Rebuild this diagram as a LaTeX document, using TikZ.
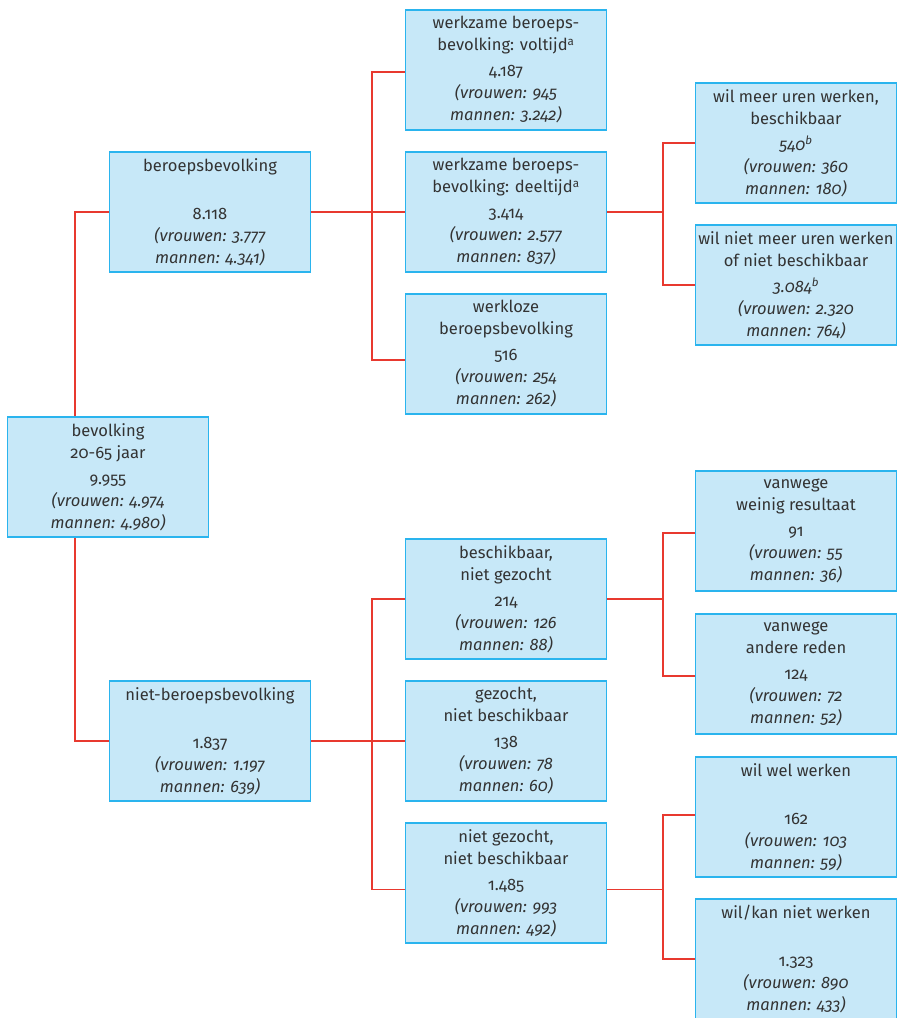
\documentclass[tikz,border=0pt]{standalone}
\usepackage{fontspec}
\setmainfont{Fira Sans}[Numbers=OldStyle]
\usepackage{tikz}

\definecolor{boxfill}{HTML}{C7E8F8}
\definecolor{boxline}{HTML}{2AB4EE}
\definecolor{linkred}{HTML}{E8392F}
\definecolor{textgray}{HTML}{333333}

\newcommand{\vm}[2]{\textit{(vrouwen: #1}\\\textit{mannen: #2)}}

\tikzset{
  box/.style={draw=boxline, fill=boxfill, line width=1.2pt,
    minimum width=151pt, minimum height=90pt, inner sep=1pt,
    align=center, text=textgray, font=\fontsize{12.4}{16.5}\selectfont},
  link/.style={draw=linkred, line width=0.8pt}
}

\begin{document}
\begin{tikzpicture}[x=0.75pt,y=-0.75pt]
\useasboundingbox (0,0) rectangle (899,1018);

\coordinate (jbev) at (75,0);
\coordinate (jA) at (372,0);
\coordinate (jB) at (663,0);

% first column
\node[box] (bev) at (108,477) {bevolking\\20-65 jaar\\[3pt]9.955\\\vm{4.974}{4.980}};

% second column
\node[box] (beroeps) at (210,212) {beroepsbevolking\\[3pt]\\8.118\\\vm{3.777}{4.341}};
\node[box] (nietberoeps) at (210,741) {niet-beroepsbevolking\\[3pt]\\1.837\\\vm{1.197}{639}};

% third column
\node[box] (voltijd) at (506,70) {werkzame beroeps-\\bevolking: voltijd\textsuperscript{a}\\[3pt]4.187\\\vm{945}{3.242}};
\node[box] (deeltijd) at (506,212) {werkzame beroeps-\\bevolking: deeltijd\textsuperscript{a}\\[3pt]3.414\\\vm{2.577}{837}};
\node[box] (werkloze) at (506,354) {werkloze\\beroepsbevolking\\[3pt]516\\\vm{254}{262}};
\node[box] (beschikb) at (506,599) {beschikbaar,\\niet gezocht\\[3pt]214\\\vm{126}{88}};
\node[box] (gezocht) at (506,741) {gezocht,\\niet beschikbaar\\[3pt]138\\\vm{78}{60}};
\node[box] (nietgez) at (506,883) {niet gezocht,\\niet beschikbaar\\[3pt]1.485\\\vm{993}{492}};

% fourth column
\node[box] (meeruren) at (796,143) {wil meer uren werken,\\beschikbaar\\[3pt]\textit{540\textsuperscript{b}}\\\vm{360}{180}};
\node[box] (nietmeer) at (796,285) {wil niet meer uren werken\\of niet beschikbaar\\[3pt]\textit{3.084\textsuperscript{b}}\\\vm{2.320}{764}};
\node[box] (weinig) at (796,531) {vanwege\\weinig resultaat\\[3pt]91\\\vm{55}{36}};
\node[box] (andere) at (796,674) {vanwege\\andere reden\\[3pt]124\\\vm{72}{52}};
\node[box] (wilwel) at (796,817) {wil wel werken\\[3pt]\\162\\\vm{103}{59}};
\node[box] (wilkan) at (796,959) {wil/kan niet werken\\[3pt]\\1.323\\\vm{890}{433}};

% connectors
\draw[link] (beroeps.west) -| (bev.north -| jbev);
\draw[link] (nietberoeps.west) -| (bev.south -| jbev);

\draw[link] (beroeps.east) -- (deeltijd.west);
\draw[link] ([yshift=-1.5pt]voltijd.west) -| ([yshift=-4.5pt]werkloze.west -| jA) -- ([yshift=-4.5pt]werkloze.west);
\draw[link] (nietberoeps.east) -- (gezocht.west);
\draw[link] (beschikb.west) -| ([yshift=-5pt]nietgez.west -| jA) -- ([yshift=-5pt]nietgez.west);

\draw[link] (deeltijd.east) -- (deeltijd.east -| jB);
\draw[link] (meeruren.west) -| (nietmeer.west -| jB) -- (nietmeer.west);
\draw[link] (beschikb.east) -- (beschikb.east -| jB);
\draw[link] ([yshift=-1.5pt]weinig.west) -| ([yshift=-1.5pt]andere.west -| jB) -- ([yshift=-1.5pt]andere.west);
\draw[link] ([yshift=-5pt]nietgez.east) -- ([yshift=-5pt]nietgez.east -| jB);
\draw[link] ([yshift=1.5pt]wilwel.west) -| (wilkan.west -| jB) -- (wilkan.west);
\end{tikzpicture}
\end{document}
